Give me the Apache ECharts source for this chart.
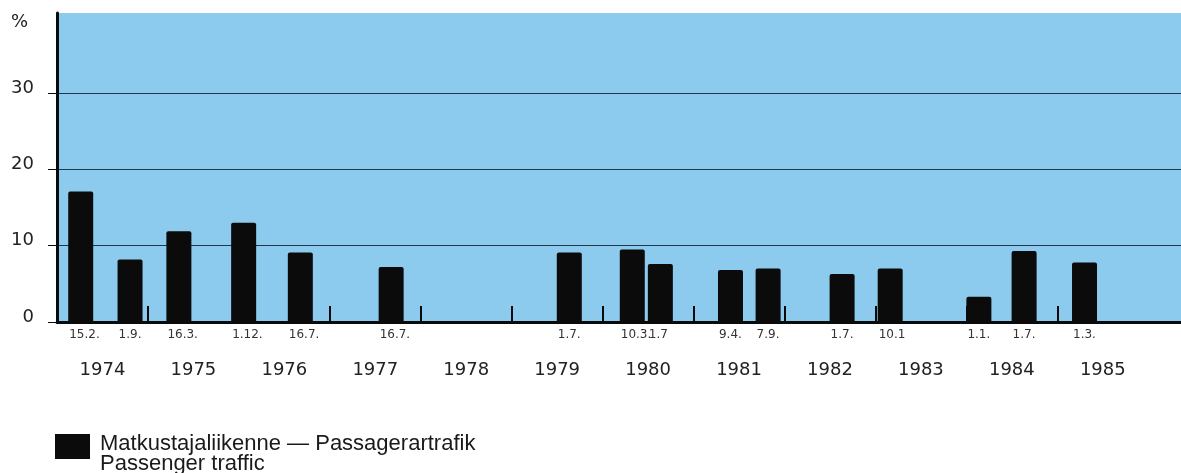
<!DOCTYPE html>
<html>
<head>
<meta charset="utf-8">
<script src="https://cdn.jsdelivr.net/npm/echarts@6/dist/echarts.min.js"></script>
<style>
  html, body { margin: 0; padding: 0; background: #ffffff; }
  #chart { width: 1181px; height: 473px; }
</style>
</head>
<body>
<div id="chart"></div>
<script>
// ---- Data ----
const fareDates = ['1974-02-15', '1974-09-01', '1975-03-16', '1975-12-01', '1976-07-16', '1977-07-16',
  '1979-07-01', '1980-03-10', '1980-07-01', '1981-04-09', '1981-09-07', '1982-07-01',
  '1983-01-10', '1984-01-01', '1984-07-01', '1985-03-01'];
const fareDateLabels = ['15.2.', '1.9.', '16.3.', '1.12.', '16.7.', '16.7.',
  '1.7.', '10.3.', '1.7', '9.4.', '7.9.', '1.7.',
  '10.1', '1.1.', '1.7.', '1.3.'];
const passengerIncrease = [17.1, 8.2, 11.9, 13.0, 9.1, 7.2,
  9.1, 9.5, 7.6, 6.8, 7.0, 6.3,
  7.0, 3.3, 9.3, 7.8];
const yearLabels = [1974, 1975, 1976, 1977, 1978, 1979, 1980, 1981, 1982, 1983, 1984, 1985];
const yTickValues = [0, 10, 20, 30];
const seriesName = 'Matkustajaliikenne — Passagerartrafik\nPassenger traffic';

// ---- Build: dates -> decimal years on a linear value axis ----
function decimalYear(s) {
  const p = s.split('-').map(Number);
  const start = Date.UTC(p[0], 0, 1), end = Date.UTC(p[0] + 1, 0, 1);
  return p[0] + (Date.UTC(p[0], p[1] - 1, p[2]) - start) / (end - start);
}
const seriesData = fareDates.map((d, i) => [decimalYear(d), passengerIncrease[i]]);
const yearBoundaries = yearLabels.slice(1);
const yearMiddles = yearLabels.map(y => y + 0.5);

const BAR_W = 25;
const BAR_COLOR = '#0b0b0b';
const AXIS_FONT = 'DejaVu Sans, sans-serif';
const LEGEND_FONT = 'Liberation Sans, Arial, sans-serif';

const chart = echarts.init(document.getElementById('chart'), null, { renderer: 'canvas' });
chart.setOption({
  animation: false,
  backgroundColor: '#ffffff',
  grid: {
    left: 57, right: 0, top: 13, bottom: 151,
    show: true, backgroundColor: '#8ccbed', borderWidth: 0
  },
  legend: {
    left: 50, top: 428,
    icon: 'rect', itemWidth: 35, itemHeight: 25,
    selectedMode: false,
    data: [seriesName],
    formatter: function (name) {
      const lines = name.split('\n');
      return '{l1|' + lines[0] + '}\n{l2|' + lines[1] + '}';
    },
    textStyle: {
      padding: [0, 0, 0, 5],
      rich: {
        l1: { fontFamily: LEGEND_FONT, fontSize: 22, lineHeight: 35, color: '#1a1a1a' },
        l2: { fontFamily: LEGEND_FONT, fontSize: 22, lineHeight: 5, color: '#1a1a1a' }
      }
    }
  },
  xAxis: {
    type: 'value',
    min: 1974,
    max: 1986.36,
    axisLine: { show: true, onZero: false, lineStyle: { color: '#0a0a0a', width: 3 } },
    axisTick: {
      show: true, inside: true, length: 16,
      customValues: yearBoundaries,
      lineStyle: { color: '#0a0a0a', width: 2 }
    },
    axisLabel: {
      customValues: yearMiddles,
      margin: 39,
      fontFamily: AXIS_FONT, fontSize: 18, color: '#222',
      formatter: v => String(Math.floor(v))
    },
    splitLine: { show: false }
  },
  yAxis: {
    type: 'value',
    min: 0, max: 40.5,
    name: '%',
    nameLocation: 'end',
    nameGap: -9,
    nameTextStyle: {
      fontFamily: AXIS_FONT, fontSize: 18, color: '#222',
      align: 'right', verticalAlign: 'middle', padding: [0, 29, 0, 0]
    },
    axisLine: { show: true, lineStyle: { color: '#0a0a0a', width: 3 } },
    axisTick: {
      show: true, inside: false, length: 9,
      customValues: yTickValues,
      lineStyle: { color: '#0a0a0a', width: 1 }
    },
    axisLabel: {
      customValues: yTickValues,
      margin: 23,
      fontFamily: AXIS_FONT, fontSize: 18, color: '#222',
      verticalAlign: 'bottom', lineHeight: 10
    },
    splitLine: { show: true, lineStyle: { color: '#1f3550', width: 1 } }
  },
  series: [{
    name: seriesName,
    type: 'custom',
    itemStyle: { color: BAR_COLOR },
    encode: { x: 0, y: 1 },
    data: seriesData,
    clip: false,
    renderItem: function (params, api) {
      const base = api.coord([api.value(0), 0]);
      const top = api.coord([api.value(0), api.value(1)]);
      return {
        type: 'group',
        children: [
          {
            type: 'rect',
            shape: { x: base[0], y: top[1], width: BAR_W, height: base[1] - top[1], r: [2, 2, 0, 0] },
            style: { fill: BAR_COLOR }
          },
          {
            type: 'text',
            style: {
              text: fareDateLabels[params.dataIndex],
              x: base[0] + 1, y: base[1] + 7,
              fill: '#333', fontSize: 12, fontFamily: AXIS_FONT,
              align: 'left', verticalAlign: 'top'
            }
          }
        ]
      };
    }
  }]
});
</script>
</body>
</html>
